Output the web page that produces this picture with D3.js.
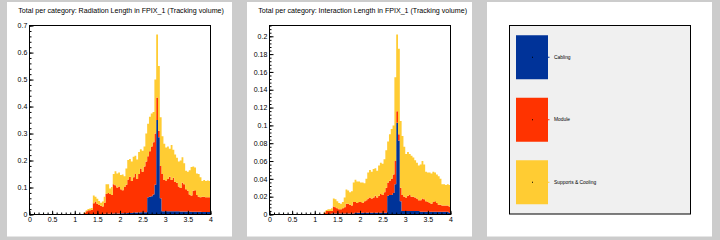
<!DOCTYPE html>
<meta charset="utf-8">
<head>
  <title>Material budget FPIX_1</title>
  <style>
  body { margin: 0; background: #cccccc; }
  svg { display: block; font-family: "Liberation Sans", Arial, sans-serif; }
  .tick text { fill: #000; }
  </style>
</head>
<html>
  <body>
    <svg width="720" height="240"></svg>
  </body>
</html>
<script src="https://d3js.org/d3.v7.min.js"></script>
<script>
// histogram binning (eta)
var binStart = 1.2, binWidth = 0.04;
var categories = ["Cabling", "Module", "Supports & Cooling"];
var colors = ["#003399", "#ff3300", "#ffcc33"];
var xTicks = [0, 0.5, 1, 1.5, 2, 2.5, 3, 3.5, 4];

var titles = [
  "Total per category: Radiation Length in FPIX_1 (Tracking volume)",
  "Total per category: Interaction Length in FPIX_1 (Tracking volume)"
];

// radiation length per category, one value per 0.04 bin from 1.2 to 4.0
var radCabling = [0,0,0,0,0.001,0.002,0.002,0.002,0.002,0.002,
  0.002,0.003,0.003,0.003,0.003,0.003,0.004,0.004,0.004,0.004,
  0.005,0.005,0.005,0.005,0.006,0.006,0.006,0.007,0.007,0.007,
  0.007,0.008,0.008,0.008,0.008,0.064,0.066,0.068,0.074,0.110,
  0.350,0.286,0.060,0.012,0.012,0.012,0.012,0.012,0.012,0.012,
  0.012,0.012,0.012,0.011,0.011,0.011,0.011,0.011,0.011,0.010,
  0.010,0.010,0.010,0.010,0.010,0.009,0.009,0.009,0.009,0.009];
var radModule = [0.006,0.012,0.016,0.016,0.017,0.040,0.046,0.038,0.034,0.030,
  0.028,0.041,0.073,0.077,0.073,0.069,0.108,0.104,0.096,0.100,
  0.089,0.085,0.097,0.105,0.124,0.134,0.118,0.131,0.143,0.125,
  0.143,0.162,0.150,0.170,0.188,0.152,0.168,0.184,0.194,0.190,
  0.084,0.024,0.120,0.138,0.116,0.114,0.120,0.128,0.116,0.124,
  0.108,0.106,0.092,0.087,0.107,0.101,0.083,0.077,0.063,0.060,
  0.078,0.080,0.062,0.056,0.054,0.057,0.057,0.055,0.055,0.055];
var radSupports = [0.002,0.004,0.004,0.006,0.006,0.028,0.018,0.018,0.014,0.012,
  0.018,0.022,0.036,0.032,0.020,0.030,0.038,0.052,0.052,0.052,
  0.052,0.058,0.040,0.060,0.072,0.066,0.072,0.076,0.068,0.072,
  0.082,0.072,0.078,0.074,0.104,0.120,0.128,0.122,0.112,0.200,
  0.233,0.240,0.180,0.140,0.134,0.122,0.120,0.104,0.130,0.104,
  0.102,0.092,0.092,0.102,0.094,0.078,0.068,0.070,0.090,0.106,
  0.090,0.084,0.080,0.084,0.074,0.058,0.062,0.060,0.062,0.060];

// interaction length per category
var intCabling = [0,0,0,0,0.001,0.001,0.001,0.001,0.001,0.001,
  0.001,0.001,0.001,0.001,0.001,0.001,0.001,0.002,0.002,0.002,
  0.002,0.002,0.002,0.002,0.002,0.002,0.002,0.002,0.002,0.002,
  0.002,0.002,0.002,0.002,0.002,0.021,0.022,0.022,0.024,0.034,
  0.103,0.083,0.015,0.004,0.004,0.004,0.004,0.004,0.004,0.004,
  0.004,0.004,0.004,0.003,0.003,0.003,0.003,0.003,0.003,0.003,
  0.003,0.003,0.003,0.003,0.003,0.003,0.003,0.003,0.003,0.002];
var intModule = [0.002,0.004,0.004,0.004,0.003,0.008,0.007,0.006,0.005,0.005,
  0.006,0.007,0.011,0.011,0.010,0.009,0.013,0.012,0.011,0.012,
  0.012,0.011,0.013,0.014,0.016,0.017,0.016,0.017,0.019,0.017,
  0.019,0.021,0.020,0.023,0.028,0.015,0.016,0.018,0.021,0.026,
  0.013,0.007,0.015,0.018,0.016,0.015,0.017,0.018,0.016,0.016,
  0.015,0.014,0.012,0.013,0.015,0.014,0.012,0.011,0.010,0.009,
  0.011,0.012,0.010,0.008,0.008,0.007,0.007,0.007,0.007,0.007];
var intSupports = [0.001,0.001,0.002,0.002,0.003,0.009,0.009,0.008,0.007,0.006,
  0.007,0.011,0.016,0.015,0.014,0.016,0.022,0.025,0.024,0.023,
  0.022,0.023,0.020,0.024,0.029,0.031,0.030,0.032,0.031,0.030,
  0.034,0.035,0.035,0.037,0.042,0.046,0.052,0.056,0.055,0.094,
  0.086,0.096,0.075,0.066,0.056,0.049,0.049,0.046,0.046,0.044,
  0.042,0.040,0.039,0.040,0.042,0.039,0.033,0.033,0.034,0.034,
  0.034,0.032,0.032,0.032,0.029,0.024,0.024,0.023,0.024,0.024];

var radYTicks = [0, 0.1, 0.2, 0.3, 0.4, 0.5, 0.6, 0.7];
var intYTicks = [0, 0.02, 0.04, 0.06, 0.08, 0.1, 0.12, 0.14, 0.16, 0.18, 0.2];

var svg = d3.select("svg");

function drawPad(ox) {
  svg.append("rect")
      .attr("x", ox + 7).attr("y", 2)
      .attr("width", 225).attr("height", 234.5)
      .attr("fill", "#fff");
}

function drawHist(ox, title, series, yTicks, minorStep) {
  var rows = series[0].map(function(v, i) {
    var r = {eta: binStart + i * binWidth};
    categories.forEach(function(c, k) { r[c] = series[k][i]; });
    return r;
  });
  // closing edge for the step outline
  var last = Object.assign({}, rows[rows.length - 1]);
  last.eta = binStart + rows.length * binWidth;
  rows.push(last);

  var stacked = d3.stack().keys(categories)(rows);
  var ymax = d3.max(rows, function(r) { return r[categories[0]] + r[categories[1]] + r[categories[2]]; }) * 1.05;

  var x = d3.scaleLinear().domain([0, 4]).range([ox + 29.5, ox + 210.5]);
  var y = d3.scaleLinear().domain([0, ymax]).range([214.5, 25.5]);

  var g = svg.append("g");

  var area = d3.area()
      .curve(d3.curveStepAfter)
      .x(function(d) { return x(d.data.eta); })
      .y0(function(d) { return y(d[0]); })
      .y1(function(d) { return y(d[1]); });

  g.selectAll("path.layer")
    .data(stacked)
    .enter().append("path")
      .attr("class", "layer")
      .attr("fill", function(d, i) { return colors[i]; })
      .attr("d", area);

  // minor ticks
  g.append("g")
      .attr("transform", "translate(0,214.5)")
      .call(d3.axisBottom(x).tickValues(d3.range(0, 4.001, 0.1)).tickSize(-2).tickFormat(""))
      .call(function(a) { a.select(".domain").remove(); });
  g.append("g")
      .attr("transform", "translate(" + x(0) + ",0)")
      .call(d3.axisLeft(y).tickValues(d3.range(0, ymax, minorStep)).tickSize(-2).tickFormat(""))
      .call(function(a) { a.select(".domain").remove(); });

  // major ticks + labels
  g.append("g")
      .attr("transform", "translate(0,214.5)")
      .call(d3.axisBottom(x).tickValues(xTicks).tickSize(-3.7).tickPadding(2.3).tickFormat(d3.format("")))
      .call(function(a) {
        a.select(".domain").remove();
        a.selectAll("text").attr("font-size", 7).attr("font-family", "Liberation Sans, Arial, sans-serif");
      });
  g.append("g")
      .attr("transform", "translate(" + x(0) + ",0)")
      .call(d3.axisLeft(y).tickValues(yTicks).tickSize(-4).tickPadding(2.2).tickFormat(d3.format("")))
      .call(function(a) {
        a.select(".domain").remove();
        a.selectAll("text").attr("font-size", 7).attr("font-family", "Liberation Sans, Arial, sans-serif");
      });

  g.append("rect")
      .attr("x", x(0)).attr("y", y(ymax))
      .attr("width", x(4) - x(0)).attr("height", y(0) - y(ymax))
      .attr("fill", "none").attr("stroke", "#000").attr("stroke-width", 1);

  svg.append("text")
      .attr("x", ox + 18.3).attr("y", 12.8)
      .attr("font-size", 7.1)
      .attr("fill", "#000")
      .text(title);
}

drawPad(0);
drawPad(240);
drawPad(480);

drawHist(0, titles[0], [radCabling, radModule, radSupports], radYTicks, 0.02);
drawHist(240, titles[1], [intCabling, intModule, intSupports], intYTicks, 0.004);

// legend pad
var lg = svg.append("g");
lg.append("rect")
    .attr("x", 509.5).attr("y", 25.5)
    .attr("width", 181).attr("height", 188.5)
    .attr("fill", "#f0f0f0").attr("stroke", "#000").attr("stroke-width", 1);

var ly = d3.scaleBand().domain(categories).range([26, 213.5]);

var entry = lg.selectAll("g.entry")
  .data(categories)
  .enter().append("g")
    .attr("class", "entry")
    .attr("transform", function(d) { return "translate(0," + (ly(d) + ly.bandwidth() / 2) + ")"; });

entry.append("rect")
    .attr("x", 516).attr("y", -22)
    .attr("width", 32).attr("height", 44)
    .attr("fill", function(d, i) { return colors[i]; });

entry.append("rect")
    .attr("x", 532).attr("y", -0.5)
    .attr("width", 1).attr("height", 1)
    .attr("fill", "#000");

entry.append("rect")
    .attr("x", 548).attr("y", -0.5)
    .attr("width", 1.5).attr("height", 1)
    .attr("fill", function(d, i) { return colors[i]; });

entry.append("text")
    .attr("x", 554).attr("y", 0)
    .attr("dy", "0.35em")
    .attr("font-size", 4.9)
    .attr("fill", "#000")
    .text(function(d) { return d; });
</script>
